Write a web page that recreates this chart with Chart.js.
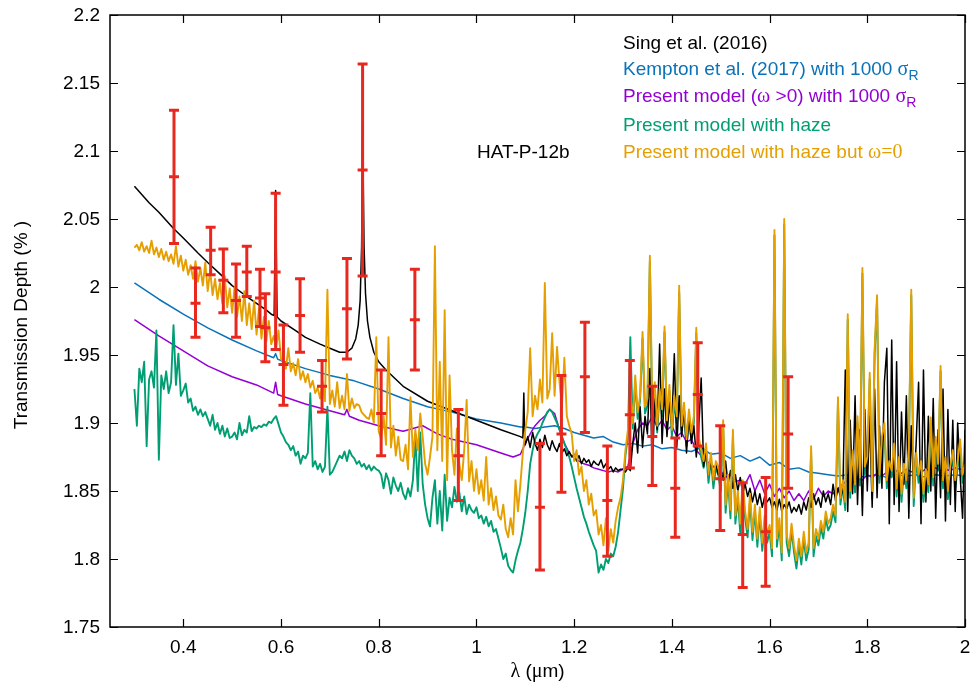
<!DOCTYPE html>
<html>
<head>
<meta charset="utf-8">
<script src="https://cdn.jsdelivr.net/npm/chart.js@4.4.1/dist/chart.umd.min.js"></script>
<style>
  html, body { margin: 0; padding: 0; background: #fff; }
  #wrap { width: 972px; height: 686px; }
</style>
</head>
<body>
<div id="wrap"><canvas id="spectrum"></canvas></div>
<script>
// axis ticks
var xTicks = [0.4, 0.6, 0.8, 1.0, 1.2, 1.4, 1.6, 1.8, 2.0];
var xTickLabels = ['0.4', '0.6', '0.8', '1', '1.2', '1.4', '1.6', '1.8', '2'];
var yTicks = [1.75, 1.8, 1.85, 1.9, 1.95, 2.0, 2.05, 2.1, 2.15, 2.2];
var yTickLabels = ['1.75', '1.8', '1.85', '1.9', '1.95', '2', '2.05', '2.1', '2.15', '2.2'];

// observed points, Sing et al. (2016)
var obsX    = [0.381, 0.425, 0.456, 0.482, 0.508, 0.530, 0.557, 0.568, 0.589, 0.605, 0.639, 0.684, 0.735, 0.767, 0.805,
               0.874, 0.963, 1.130, 1.174, 1.222, 1.268, 1.314, 1.360, 1.407, 1.453, 1.499, 1.545, 1.592, 1.638];
var obsY    = [2.081, 1.988, 2.027, 2.005, 1.990, 2.011, 1.992, 1.970, 2.011, 1.943, 1.979, 1.927, 1.984, 2.086, 1.907,
               1.976, 1.876, 1.838, 1.892, 1.934, 1.843, 1.906, 1.890, 1.852, 1.921, 1.859, 1.818, 1.820, 1.892];
var obsLow  = [2.032, 1.963, 2.009, 1.981, 1.963, 1.993, 1.971, 1.945, 1.954, 1.913, 1.952, 1.908, 1.947, 2.008, 1.876,
               1.939, 1.843, 1.792, 1.849, 1.893, 1.802, 1.867, 1.854, 1.816, 1.883, 1.821, 1.779, 1.780, 1.852];
var obsHigh = [2.130, 2.014, 2.044, 2.028, 2.017, 2.030, 2.013, 1.995, 2.069, 1.972, 2.006, 1.946, 2.021, 2.164, 1.939,
               2.013, 1.910, 1.885, 1.935, 1.974, 1.883, 1.946, 1.927, 1.889, 1.959, 1.898, 1.856, 1.860, 1.934];

// Sing et al. model: smooth optical part, then noisy IR part on a 0.005 um grid from 1.10
var singX = [0.300, 0.330, 0.350, 0.380, 0.400, 0.430, 0.450, 0.480, 0.500, 0.530, 0.550, 0.570, 0.580, 0.586, 0.589,
             0.592, 0.600, 0.630, 0.650, 0.680, 0.700, 0.720, 0.735, 0.745, 0.753, 0.758, 0.762, 0.765, 0.767, 0.770,
             0.773, 0.777, 0.782, 0.790, 0.800, 0.815, 0.850, 0.900, 0.950, 1.000, 1.050, 1.090, 1.095, 1.097, 1.099];
var singY = [2.074, 2.062, 2.055, 2.043, 2.036, 2.025, 2.018, 2.008, 2.001, 1.993, 1.988, 1.983, 1.980, 1.979, 2.071,
             1.978, 1.975, 1.968, 1.963, 1.958, 1.955, 1.952, 1.952, 1.955, 1.962, 1.972, 1.990, 2.030, 2.120, 2.030,
             1.995, 1.975, 1.963, 1.952, 1.945, 1.939, 1.927, 1.916, 1.909, 1.902, 1.895, 1.890, 1.889, 1.922, 1.884];
var singIrStart = 1.10;
var singIr = [
  1.884, 1.890, 1.882, 1.893, 1.885, 1.880, 1.888, 1.882, 1.891, 1.884,
  1.880, 1.887, 1.882, 1.879, 1.885, 1.878, 1.881, 1.876, 1.879, 1.875,
  1.877, 1.872, 1.876, 1.870, 1.874, 1.871, 1.873, 1.868, 1.872, 1.870,
  1.869, 1.873, 1.867, 1.870, 1.866, 1.868, 1.864, 1.867, 1.865, 1.866,
  1.866, 1.864, 1.867, 1.865, 1.885, 1.900, 1.878, 1.912, 1.882, 1.905,
  1.892, 1.940, 1.864, 1.918, 1.895, 1.958, 1.885, 1.925, 1.890, 1.915,
  1.898, 1.951, 1.882, 1.920, 1.890, 1.912, 1.878, 1.905, 1.885, 1.898,
  1.875, 1.895, 1.933, 1.868, 1.880, 1.862, 1.872, 1.858, 1.870, 1.862,
  1.866, 1.858, 1.872, 1.855, 1.865, 1.852, 1.862, 1.850, 1.860, 1.848,
  1.855, 1.846, 1.852, 1.842, 1.850, 1.840, 1.848, 1.838, 1.846, 1.842,
  1.845, 1.838, 1.842, 1.836, 1.844, 1.835, 1.840, 1.837, 1.842, 1.834,
  1.838, 1.835, 1.840, 1.833, 1.842, 1.836, 1.845, 1.838, 1.848, 1.840,
  1.845, 1.838, 1.850, 1.842, 1.848, 1.840, 1.855, 1.843, 1.852, 1.846,
  1.850, 1.939, 1.835, 1.902, 1.848, 1.920, 1.840, 1.895, 1.832, 1.910,
  1.850, 1.905, 1.838, 1.925, 1.845, 1.898, 1.852, 1.930, 1.955, 1.826,
  1.961, 1.840, 1.945, 1.835, 1.908, 1.855, 1.920, 1.830, 1.898, 1.848,
  1.885, 1.930, 1.826, 1.939, 1.842, 1.905, 1.850, 1.918, 1.830, 1.895,
  1.845, 1.925, 1.828, 1.910, 1.840, 1.902, 1.835, 1.900, 1.862, 1.830, 1.895];

// Kempton et al. (2017) with 1000 sigma_R
var kemptonX = [0.30, 0.35, 0.40, 0.45, 0.50, 0.55, 0.585, 0.589, 0.593, 0.60, 0.65, 0.70, 0.75, 0.80, 0.85,
                0.90, 0.95, 1.00, 1.05, 1.09];
var kemptonY = [2.003, 1.991, 1.980, 1.970, 1.961, 1.953, 1.948, 1.951, 1.947, 1.946, 1.940, 1.935, 1.931, 1.925, 1.918,
                1.912, 1.908, 1.903, 1.900, 1.897];
var kemptonIrStart = 1.10;
var kemptonIr = [
  1.897, 1.896, 1.897, 1.898, 1.896, 1.893, 1.891, 1.889, 1.890, 1.886,
  1.884, 1.885, 1.883, 1.884, 1.881, 1.882, 1.880, 1.879, 1.882, 1.877,
  1.878, 1.874, 1.876, 1.872, 1.875, 1.869, 1.871, 1.866, 1.867, 1.864,
  1.863, 1.862, 1.861, 1.862, 1.860, 1.861, 1.862, 1.860, 1.862, 1.861,
  1.862, 1.860, 1.862, 1.861, 1.862, 1.861];

// present model (omega > 0) with 1000 sigma_R
var presentX = [0.30, 0.35, 0.40, 0.45, 0.50, 0.55, 0.585, 0.589, 0.593, 0.60, 0.65, 0.70, 0.73, 0.735, 0.74,
                0.76, 0.80, 0.85, 0.87, 0.89, 0.91, 0.92, 0.95, 1.00, 1.05, 1.075, 1.09];
var presentY = [1.976, 1.964, 1.953, 1.942, 1.934, 1.928, 1.922, 1.930, 1.921, 1.920, 1.914, 1.909, 1.906, 1.910, 1.905,
                1.902, 1.898, 1.894, 1.896, 1.898, 1.894, 1.892, 1.888, 1.884, 1.878, 1.875, 1.877];
var presentIrStart = 1.10;
var presentIr = [
  1.885, 1.892, 1.898, 1.902, 1.905, 1.910, 1.907, 1.895, 1.885, 1.878,
  1.874, 1.872, 1.870, 1.869, 1.867, 1.866, 1.865, 1.864, 1.865, 1.864,
  1.866, 1.868, 1.885, 1.895, 1.900, 1.898, 1.905, 1.897, 1.902, 1.895,
  1.898, 1.890, 1.893, 1.886, 1.888, 1.880, 1.876, 1.872, 1.870, 1.866,
  1.865, 1.860, 1.862, 1.857, 1.858, 1.855, 1.862, 1.850, 1.858, 1.848,
  1.855, 1.846, 1.852, 1.845, 1.850, 1.843, 1.848, 1.843, 1.850, 1.844,
  1.852, 1.846, 1.850, 1.848, 1.852, 1.855, 1.858, 1.856, 1.860, 1.858,
  1.862, 1.860, 1.863, 1.861, 1.864, 1.862, 1.865, 1.863, 1.866, 1.864,
  1.866, 1.864, 1.866, 1.865, 1.867, 1.865, 1.866, 1.865, 1.867, 1.866, 1.866];

// haze models on a 0.005 um grid from 0.30 to 2.00
var hazeStart = 0.30;
var hazeGreen = [
  1.925, 1.898, 1.940, 1.930, 1.945, 1.883, 1.932, 1.938, 1.926, 1.968,
  1.873, 1.935, 1.925, 1.938, 1.922, 1.930, 1.972, 1.928, 1.951, 1.920,
  1.924, 1.929, 1.915, 1.918, 1.909, 1.912, 1.906, 1.910, 1.905, 1.908,
  1.903, 1.898, 1.906, 1.895, 1.900, 1.892, 1.898, 1.890, 1.896, 1.889,
  1.890, 1.893, 1.888, 1.900, 1.891, 1.895, 1.893, 1.905, 1.894, 1.897,
  1.896, 1.898, 1.897, 1.899, 1.898, 1.901, 1.900, 1.903, 1.905, 1.899,
  1.893, 1.890, 1.886, 1.884, 1.880, 1.883, 1.876, 1.879, 1.870, 1.876,
  1.874, 1.878, 1.922, 1.868, 1.872, 1.866, 1.870, 1.864, 1.868, 1.912,
  1.862, 1.864, 1.868, 1.872, 1.876, 1.874, 1.879, 1.872, 1.880, 1.876,
  1.874, 1.870, 1.872, 1.868, 1.870, 1.866, 1.869, 1.865, 1.868, 1.866,
  1.865, 1.862, 1.852, 1.863, 1.858, 1.848, 1.860, 1.854, 1.850, 1.856,
  1.848, 1.844, 1.852, 1.846, 1.858, 1.890, 1.850, 1.893, 1.855, 1.840,
  1.830, 1.824, 1.845, 1.858, 1.826, 1.850, 1.821, 1.862, 1.828, 1.845,
  1.838, 1.853, 1.842, 1.849, 1.835, 1.846, 1.833, 1.840, 1.836, 1.834,
  1.838, 1.830, 1.832, 1.826, 1.831, 1.824, 1.828, 1.820, 1.822, 1.815,
  1.808, 1.800, 1.804, 1.795, 1.792, 1.790, 1.799, 1.806, 1.812, 1.822,
  1.834, 1.850, 1.870, 1.880, 1.888, 1.892, 1.895, 1.900, 1.904, 1.908,
  1.910, 1.908, 1.904, 1.900, 1.895, 1.890, 1.885, 1.880, 1.875, 1.868,
  1.860, 1.852, 1.845, 1.838, 1.831, 1.826, 1.820, 1.815, 1.810, 1.806,
  1.790, 1.796, 1.792, 1.800, 1.797, 1.804, 1.802, 1.809, 1.820, 1.836,
  1.852, 1.876, 1.890, 1.963, 1.896, 1.930, 1.903, 1.917, 1.962, 1.907,
  1.913, 2.019, 1.900, 1.926, 1.893, 1.921, 1.905, 1.967, 1.897, 1.923,
  1.890, 1.915, 1.900, 1.996, 1.893, 1.910, 1.883, 1.905, 1.888, 1.900,
  1.966, 1.885, 1.875, 1.867, 1.880, 1.856, 1.873, 1.852, 1.867, 1.862,
  1.850, 1.897, 1.834, 1.857, 1.830, 1.890, 1.826, 1.845, 1.819, 1.853,
  1.830, 1.816, 1.843, 1.814, 1.835, 1.809, 1.833, 1.806, 1.827, 1.812,
  1.820, 1.802, 2.038, 1.809, 1.825, 1.799, 2.046, 1.812, 1.802, 1.821,
  1.805, 1.793, 1.810, 1.796, 1.815, 1.799, 1.807, 1.879, 1.802, 1.817,
  1.810, 1.823, 1.815, 1.830, 1.821, 1.825, 1.835, 1.827, 1.915, 1.840,
  1.853, 1.836, 1.976, 1.845, 1.875, 1.849, 1.900, 1.854, 2.010, 1.862,
  1.870, 1.932, 1.844, 1.950, 1.990, 1.856, 1.885, 1.895, 1.852, 1.867,
  1.860, 1.880, 1.846, 1.870, 1.842, 1.865, 1.852, 1.877, 1.994, 1.839,
  1.873, 1.856, 1.867, 1.842, 1.861, 1.849, 1.900, 1.854, 1.885, 1.865,
  1.938, 1.852, 1.870, 1.844, 1.863, 1.875, 1.852, 1.867, 1.883, 1.856, 1.865];
var hazeOrange = [
  2.029, 2.031, 2.027, 2.033, 2.026, 2.030, 2.025, 2.034, 2.024, 2.029,
  2.022, 2.028, 2.020, 2.026, 2.019, 2.024, 2.017, 2.030, 2.015, 2.023,
  2.012, 2.020, 2.009, 2.016, 2.006, 2.019, 2.004, 2.014, 2.001, 2.018,
  1.997, 2.012, 1.994, 2.006, 1.991, 2.003, 1.988, 2.008, 1.985, 1.999,
  1.981, 2.000, 1.978, 1.993, 1.975, 1.997, 1.972, 1.988, 1.969, 1.990,
  1.965, 1.985, 1.962, 1.978, 1.960, 1.975, 1.958, 1.964, 1.955, 1.968,
  1.947, 1.944, 1.940, 1.955, 1.938, 1.944, 1.935, 1.947, 1.932, 1.938,
  1.930, 1.936, 1.926, 1.931, 1.922, 1.926, 1.918, 1.930, 1.916, 1.998,
  1.914, 1.924, 1.912, 1.930, 1.911, 1.920, 1.910, 1.936, 1.909, 1.918,
  1.911, 1.914, 1.913, 1.908, 1.906, 1.904, 1.903, 1.910, 1.900, 1.963,
  1.894, 1.888, 1.905, 1.884, 1.963, 1.882, 1.898, 1.876, 1.890, 1.873,
  1.872, 1.884, 1.866, 1.919, 1.875, 1.895, 1.880, 1.907, 1.890, 1.870,
  1.862, 1.875, 1.890, 2.030, 1.880, 1.945, 1.872, 1.983, 1.858, 1.935,
  1.880, 1.862, 1.896, 1.870, 1.858, 1.880, 1.917, 1.857, 1.872, 1.850,
  1.866, 1.848, 1.858, 1.843, 1.875, 1.840, 1.852, 1.836, 1.846, 1.832,
  1.829, 1.840, 1.822, 1.816, 1.830, 1.818, 1.858, 1.835, 1.855, 1.878,
  1.895, 1.908, 1.955, 1.905, 1.920, 1.910, 1.932, 1.915, 2.003, 1.918,
  1.925, 1.966, 1.920, 1.956, 1.930, 1.912, 1.948, 1.905, 1.898, 1.892,
  1.872, 1.880, 1.862, 1.868, 1.850, 1.858, 1.840, 1.848, 1.832, 1.836,
  1.818, 1.825, 1.810, 1.830, 1.806, 1.822, 1.812, 1.828, 1.838, 1.845,
  1.858, 1.880, 1.895, 1.925, 1.900, 1.935, 1.908, 1.920, 1.967, 1.912,
  1.918, 2.023, 1.905, 1.930, 1.898, 1.925, 1.910, 1.971, 1.902, 1.928,
  1.895, 1.920, 1.905, 2.001, 1.898, 1.915, 1.888, 1.910, 1.893, 1.905,
  1.970, 1.890, 1.880, 1.872, 1.885, 1.862, 1.878, 1.858, 1.872, 1.868,
  1.855, 1.902, 1.840, 1.862, 1.836, 1.895, 1.832, 1.850, 1.826, 1.858,
  1.835, 1.822, 1.848, 1.820, 1.840, 1.815, 1.838, 1.812, 1.832, 1.818,
  1.825, 1.808, 2.042, 1.815, 1.830, 1.805, 2.050, 1.818, 1.808, 1.826,
  1.810, 1.799, 1.815, 1.802, 1.820, 1.805, 1.812, 1.883, 1.808, 1.822,
  1.815, 1.828, 1.820, 1.835, 1.826, 1.830, 1.840, 1.832, 1.919, 1.845,
  1.858, 1.842, 1.980, 1.850, 1.880, 1.855, 1.905, 1.860, 2.014, 1.868,
  1.875, 1.937, 1.850, 1.954, 1.994, 1.862, 1.890, 1.900, 1.858, 1.872,
  1.865, 1.885, 1.852, 1.875, 1.848, 1.870, 1.858, 1.882, 1.998, 1.845,
  1.878, 1.862, 1.872, 1.848, 1.866, 1.855, 1.904, 1.860, 1.890, 1.870,
  1.942, 1.858, 1.875, 1.850, 1.868, 1.880, 1.858, 1.872, 1.888, 1.862, 1.870];

var sans = '"Liberation Sans", Arial, sans-serif';
var serif = '"Liberation Serif", "DejaVu Serif", serif';
var fontSize = 19;

// wavelength grid for the tabulated spectra
function grid(start, step, n) {
  var out = [];
  for (var i = 0; i < n; i++) out.push(Math.round((start + i * step) * 1000) / 1000);
  return out;
}
function pts(xs, ys) {
  return ys.map(function (y, i) { return { x: xs[i], y: y }; });
}

var hazeX = grid(hazeStart, 0.005, hazeOrange.length);
var singData = pts(singX, singY).concat(pts(grid(singIrStart, 0.005, singIr.length), singIr));
var kemptonData = pts(kemptonX, kemptonY).concat(pts(grid(kemptonIrStart, 0.02, kemptonIr.length), kemptonIr));
var presentData = pts(presentX, presentY).concat(pts(grid(presentIrStart, 0.01, presentIr.length), presentIr));

function drawRuns(ctx, x, y, runs, color) {
  ctx.fillStyle = color;
  ctx.textBaseline = 'alphabetic';
  ctx.textAlign = 'left';
  runs.forEach(function (r) {
    ctx.font = r.font;
    ctx.fillText(r.t, x, y + (r.dy || 0));
    x += ctx.measureText(r.t).width;
  });
}
function runsWidth(ctx, runs) {
  var w = 0;
  runs.forEach(function (r) { ctx.font = r.font; w += ctx.measureText(r.t).width; });
  return w;
}

var overlay = {
  id: 'overlay',
  afterDatasetsDraw: function (chart) {
    var ctx = chart.ctx, xs = chart.scales.x, ys = chart.scales.y;
    ctx.save();
    ctx.strokeStyle = '#e8281e';
    ctx.lineWidth = 3;
    ctx.lineCap = 'butt';
    obsX.forEach(function (lam, i) {
      var px = xs.getPixelForValue(lam);
      var pl = ys.getPixelForValue(obsLow[i]);
      var ph = ys.getPixelForValue(obsHigh[i]);
      var pc = ys.getPixelForValue(obsY[i]);
      ctx.beginPath();
      ctx.moveTo(px, pl); ctx.lineTo(px, ph);
      [pl, ph, pc].forEach(function (py) { ctx.moveTo(px - 5, py); ctx.lineTo(px + 5, py); });
      ctx.stroke();
    });
    ctx.restore();
  },
  afterDraw: function (chart) {
    var ctx = chart.ctx, a = chart.chartArea, xs = chart.scales.x, ys = chart.scales.y;
    ctx.save();
    ctx.strokeStyle = '#000';
    ctx.lineWidth = 1.5;
    ctx.strokeRect(a.left, a.top, a.right - a.left, a.bottom - a.top);
    ctx.lineWidth = 1.2;
    ctx.beginPath();
    xTicks.forEach(function (v) {
      var px = Math.round(xs.getPixelForValue(v)) + 0.5;
      ctx.moveTo(px, a.bottom); ctx.lineTo(px, a.bottom - 8);
      ctx.moveTo(px, a.top); ctx.lineTo(px, a.top + 8);
    });
    yTicks.forEach(function (v) {
      var py = Math.round(ys.getPixelForValue(v)) + 0.5;
      ctx.moveTo(a.left, py); ctx.lineTo(a.left + 8, py);
      ctx.moveTo(a.right, py); ctx.lineTo(a.right - 8, py);
    });
    ctx.stroke();

    var f = fontSize + 'px ' + sans;
    var g = (fontSize + 1) + 'px ' + serif;
    var sub = '14px ' + sans;

    // tick labels
    ctx.font = f;
    ctx.fillStyle = '#000';
    ctx.textAlign = 'center';
    ctx.textBaseline = 'middle';
    xTicks.forEach(function (v, i) { ctx.fillText(xTickLabels[i], xs.getPixelForValue(v), a.bottom + 21); });
    ctx.textAlign = 'right';
    yTicks.forEach(function (v, i) { ctx.fillText(yTickLabels[i], a.left - 10, ys.getPixelForValue(v) + 1); });

    var lx = 623;
    drawRuns(ctx, lx, 48.5, [{ t: 'Sing et al. (2016)', font: f }], '#000');
    drawRuns(ctx, lx, 75, [{ t: 'Kempton et al. (2017) with 1000 ', font: f }, { t: 'σ', font: g }, { t: 'R', font: sub, dy: 5 }], '#0a72b8');
    drawRuns(ctx, lx, 102, [{ t: 'Present model (', font: f }, { t: 'ω', font: g }, { t: ' >0) with 1000 ', font: f }, { t: 'σ', font: g }, { t: 'R', font: sub, dy: 5 }], '#9400d3');
    drawRuns(ctx, lx, 130.5, [{ t: 'Present model with haze', font: f }], '#009e73');
    drawRuns(ctx, lx, 158, [{ t: 'Present model with haze but ', font: f }, { t: 'ω=0', font: g }], '#e69f00');
    drawRuns(ctx, 477, 158, [{ t: 'HAT-P-12b', font: f }], '#000');

    var xt = [{ t: 'λ', font: g }, { t: ' (', font: f }, { t: 'μ', font: g }, { t: 'm)', font: f }];
    drawRuns(ctx, (a.left + a.right) / 2 - runsWidth(ctx, xt) / 2, 677, xt, '#000');

    ctx.translate(27, (a.top + a.bottom) / 2 + 4);
    ctx.rotate(-Math.PI / 2);
    ctx.font = f;
    ctx.textAlign = 'center';
    ctx.textBaseline = 'alphabetic';
    ctx.fillStyle = '#000';
    ctx.fillText('Transmission Depth (% )', 0, 0);
    ctx.restore();
  }
};

var ctx = document.getElementById('spectrum').getContext('2d');
var line = function (label, data, color, width, order) {
  return { label: label, data: data, borderColor: color, backgroundColor: color, borderWidth: width,
           pointRadius: 0, tension: 0, fill: false, order: order, borderJoinStyle: 'round' };
};

var chartInstance = new Chart(ctx, {
  type: 'line',
  data: {
    datasets: [
      line('Present model with haze but ω=0', pts(hazeX, hazeOrange), '#e69f00', 1.9, 1),
      line('Sing et al. (2016)', singData, '#000000', 1.5, 2),
      line('Present model with haze', pts(hazeX, hazeGreen), '#009e73', 1.9, 3),
      line('Present model (ω >0) with 1000 σR', presentData, '#9400d3', 1.5, 4),
      line('Kempton et al. (2017) with 1000 σR', kemptonData, '#0a72b8', 1.5, 5)
    ]
  },
  options: {
    responsive: true,
    maintainAspectRatio: false,
    animation: false,
    devicePixelRatio: 1,
    layout: { padding: { top: 15, right: 7, left: 0, bottom: 0 } },
    plugins: { legend: { display: false }, tooltip: { enabled: false } },
    scales: {
      x: {
        type: 'linear', min: 0.25, max: 2,
        grid: { display: false, drawTicks: false },
        border: { display: false },
        ticks: { display: false },
        afterBuildTicks: function (s) { s.ticks = xTicks.map(function (v) { return { value: v }; }); },
        afterFit: function (s) { s.height = 59; }
      },
      y: {
        type: 'linear', min: 1.75, max: 2.2,
        grid: { display: false, drawTicks: false },
        border: { display: false },
        ticks: { display: false },
        afterBuildTicks: function (s) { s.ticks = yTicks.map(function (v) { return { value: v }; }); },
        afterFit: function (s) { s.width = 110; }
      }
    }
  },
  plugins: [overlay]
});
</script>
</body>
</html>
